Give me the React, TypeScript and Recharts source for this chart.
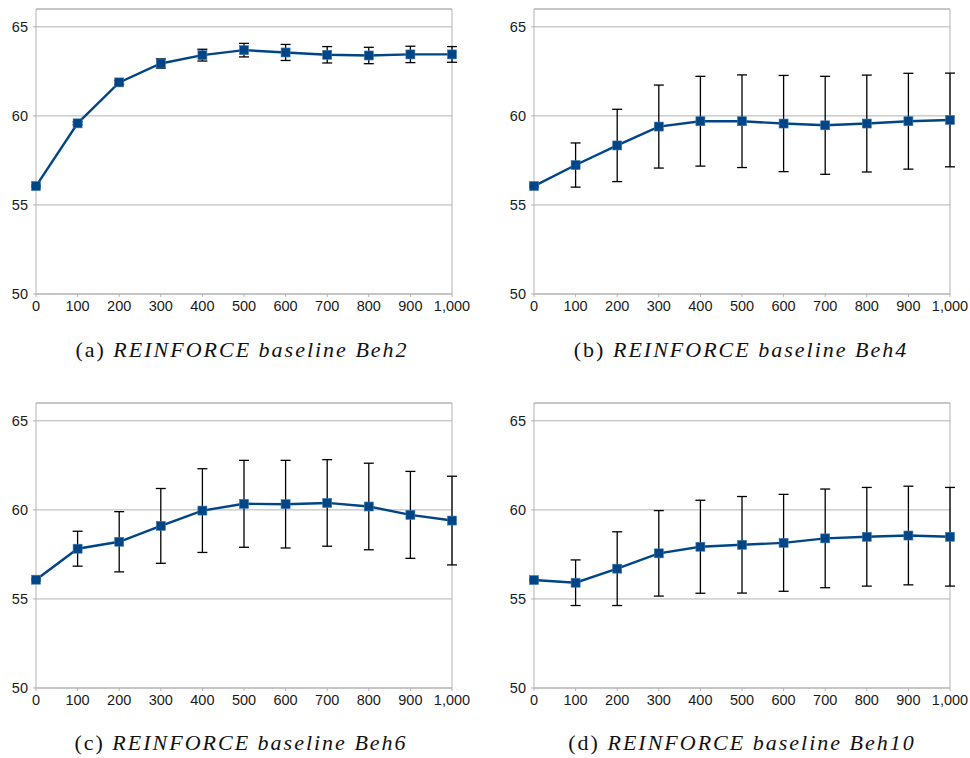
import React from "react";
import { LineChart, Line, XAxis, YAxis, CartesianGrid, ErrorBar, ReferenceLine } from "recharts";

const steps = [0, 100, 200, 300, 400, 500, 600, 700, 800, 900, 1000];
const yTicks = [50, 55, 60, 65];

const beh2Mean = [56.06, 59.58, 61.88, 62.94, 63.41, 63.69, 63.56, 63.43, 63.39, 63.45, 63.45];
const beh2Err = [0.05, 0.08, 0.1, 0.26, 0.33, 0.38, 0.45, 0.46, 0.46, 0.46, 0.44];
const beh4Mean = [56.06, 57.24, 58.34, 59.4, 59.7, 59.7, 59.57, 59.47, 59.57, 59.7, 59.77];
const beh4Err = [0.05, 1.24, 2.03, 2.33, 2.52, 2.6, 2.7, 2.75, 2.72, 2.69, 2.63];
const beh6Mean = [56.08, 57.82, 58.21, 59.1, 59.96, 60.34, 60.32, 60.39, 60.19, 59.72, 59.4];
const beh6Err = [0.05, 0.98, 1.69, 2.1, 2.35, 2.44, 2.46, 2.43, 2.43, 2.44, 2.49];
const beh10Mean = [56.06, 55.91, 56.7, 57.56, 57.93, 58.04, 58.15, 58.4, 58.49, 58.56, 58.49];
const beh10Err = [0.05, 1.28, 2.07, 2.4, 2.61, 2.71, 2.72, 2.77, 2.77, 2.77, 2.77];

const captions = [
  { label: "(a)", title: "REINFORCE baseline Beh2" },
  { label: "(b)", title: "REINFORCE baseline Beh4" },
  { label: "(c)", title: "REINFORCE baseline Beh6" },
  { label: "(d)", title: "REINFORCE baseline Beh10" },
];

const BLUE = "#004586";
const GRID = "#b3b3b3";

const build = (means: number[], errs: number[]) =>
  steps.map((s, i) => ({ step: s, v: means[i], err: errs[i] }));

const SquareDot = (props: any) => {
  const { cx, cy } = props;
  if (cx == null || cy == null) return null;
  return <rect x={cx - 4.5} y={cy - 4.5} width={9} height={9} fill={BLUE} stroke="#3f78b0" strokeWidth={0.6} />;
};

const tickStyle = { fontFamily: "Liberation Sans, Arial, sans-serif", fontSize: 14.5, fill: "#1a1a1a" };

function Panel({ means, errs, left, top }: { means: number[]; errs: number[]; left: number; top: number }) {
  const data = build(means, errs);
  return (
    <div style={{ position: "absolute", left, top }}>
      <LineChart width={470} height={330} data={data} margin={{ top: 9, right: 18, left: 6, bottom: 6 }}>
        <CartesianGrid horizontal={true} vertical={false} stroke={GRID} strokeWidth={1} />
        <XAxis
          dataKey="step"
          type="number"
          domain={[0, 1000]}
          ticks={steps}
          tickFormatter={(v: number) => v.toLocaleString("en-US")}
          stroke={GRID}
          tickSize={3}
          tickMargin={4}
          height={30}
          tick={tickStyle}
          interval={0}
        />
        <YAxis
          type="number"
          domain={[50, 66]}
          ticks={yTicks}
          stroke={GRID}
          tickSize={3}
          tickMargin={5}
          width={30}
          tick={tickStyle}
          interval={0}
        />
        <ReferenceLine y={66} stroke={GRID} strokeWidth={1} />
        <ReferenceLine x={1000} stroke={GRID} strokeWidth={1} />
        <Line
          dataKey="v"
          stroke={BLUE}
          strokeWidth={2.4}
          dot={<SquareDot />}
          activeDot={false}
          isAnimationActive={false}
        />
        <Line dataKey="v" stroke="none" dot={false} activeDot={false} isAnimationActive={false} legendType="none">
          <ErrorBar dataKey="err" width={5} strokeWidth={1.3} stroke="#000" direction="y" isAnimationActive={false} />
        </Line>
      </LineChart>
    </div>
  );
}

const capFont = { fontFamily: "Liberation Serif, 'DejaVu Serif', serif", fontSize: 22 };

export default function App() {
  const capPos = [
    { x: 242, y: 357 },
    { x: 741, y: 357 },
    { x: 241, y: 750 },
    { x: 742, y: 750 },
  ];
  return (
    <div style={{ position: "absolute", left: 0, top: 0, width: 970, height: 758, background: "#fff", overflow: "hidden" }}>
      <Panel means={beh2Mean} errs={beh2Err} left={0} top={0} />
      <Panel means={beh4Mean} errs={beh4Err} left={498} top={0} />
      <Panel means={beh6Mean} errs={beh6Err} left={0} top={394} />
      <Panel means={beh10Mean} errs={beh10Err} left={498} top={394} />
      <svg width={970} height={758} style={{ position: "absolute", left: 0, top: 0, pointerEvents: "none" }}>
        {captions.map((c, i) => (
          <text key={i} x={capPos[i].x} y={capPos[i].y} textAnchor="middle" style={capFont} fill="#111" letterSpacing={2}>
            {c.label + " "}
            <tspan fontStyle="italic">{c.title}</tspan>
          </text>
        ))}
      </svg>
    </div>
  );
}
